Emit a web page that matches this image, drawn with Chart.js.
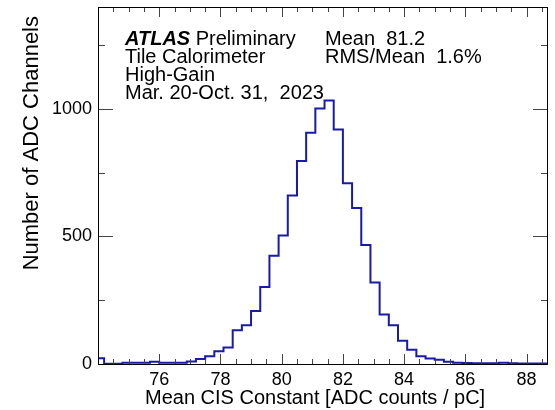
<!DOCTYPE html>
<html><head><meta charset="utf-8">
<script src="https://cdn.jsdelivr.net/npm/chart.js@4/dist/chart.umd.min.js"></script>
<style>html,body{margin:0;padding:0;background:#fff}#w{width:555px;height:410px;position:relative}</style>
</head><body><div id="w"><canvas id="c"></canvas></div>
<script>
// Histogram: bin low edge of first bin, bin width, and counts per bin
const binStart = 73.9;
const binWidth = 0.3;
const counts = [23, 1, 1, 5, 5, 5, 9, 5, 5, 5, 10, 20, 30, 50, 65, 132, 152, 208, 302, 425,
                504, 661, 796, 907, 1002, 1033, 920, 709, 612, 467, 320, 194, 152, 91, 56, 30,
                22, 17, 9, 5, 4, 3, 3, 3, 5, 3, 2, 2, 2, 2];
const xTicks = [76, 78, 80, 82, 84, 86, 88];
const yTicks = [0, 500, 1000];
const xRange = [74.0, 88.7];
const yRange = [0, 1400];
const xTitle = "Mean CIS Constant [ADC counts / pC]";
const yTitle = "Number of ADC Channels";
const textLeft = ["Tile Calorimeter", "High-Gain", "Mar. 20-Oct. 31,  2023"];
const textRight = ["Mean  81.2", "RMS/Mean  1.6%"];

const pts = counts.map((c, i) => ({x: +(binStart + i * binWidth).toFixed(2), y: c}));
pts.push({x: +(binStart + counts.length * binWidth).toFixed(2), y: counts[counts.length - 1]});

const FONT = "'Liberation Sans', Arial, Helvetica, sans-serif";

const decor = {
  id: 'decor',
  afterDatasetsDraw(chart) {
    const {ctx, chartArea: a, scales: {x, y}} = chart;
    ctx.save();
    // ticks
    ctx.strokeStyle = '#444';
    ctx.lineWidth = 1;
    ctx.beginPath();
    for (let v = 74.5; v <= 88.7 + 1e-9; v += 0.5) {
      const major = Math.abs(v / 2 - Math.round(v / 2)) < 1e-6;
      const len = major ? 10 : 5;
      const px = Math.round(x.getPixelForValue(v)) + 0.5;
      ctx.moveTo(px, a.bottom); ctx.lineTo(px, a.bottom - len);
      ctx.moveTo(px, a.top); ctx.lineTo(px, a.top + len);
    }
    for (let v = 250; v <= 1400; v += 250) {
      const major = v % 500 === 0;
      const len = major ? 15 : 7;
      const py = Math.round(y.getPixelForValue(v)) + 0.5;
      ctx.moveTo(a.left, py); ctx.lineTo(a.left + len, py);
      ctx.moveTo(a.right, py); ctx.lineTo(a.right - len, py);
    }
    ctx.stroke();
    // frame
    ctx.strokeStyle = '#000';
    ctx.strokeRect(a.left + 0.5, a.top + 0.5, a.right - a.left - 1, a.bottom - a.top);
    // texts
    ctx.fillStyle = '#000';
    ctx.textBaseline = 'alphabetic';
    ctx.textAlign = 'left';
    ctx.font = 'italic bold 20px ' + FONT;
    ctx.fillText('ATLAS', 125, 45);
    const w = ctx.measureText('ATLAS').width;
    ctx.font = '20px ' + FONT;
    ctx.fillText(' Preliminary', 125 + w, 45);
    textLeft.forEach((t, i) => ctx.fillText(t, 125, 63 + 18 * i));
    textRight.forEach((t, i) => ctx.fillText(t, 325, 45 + 18 * i));
    // axis titles
    ctx.textBaseline = 'middle';
    ctx.fillText(xTitle, 145, 398);
    ctx.translate(32, 16);
    ctx.rotate(-Math.PI / 2);
    ctx.textAlign = 'right';
    ctx.font = '22px ' + FONT;
    ctx.fillText(yTitle, 0, 0);
    ctx.restore();
  }
};

new Chart(document.getElementById('c'), {
  type: 'line',
  data: {
    datasets: [{
      data: pts,
      stepped: 'before',
      borderColor: '#1a1aa8',
      borderWidth: 2,
      pointRadius: 0,
      fill: false,
      tension: 0,
      clip: {left: 0, right: 0, top: 0, bottom: 2}
    }]
  },
  plugins: [decor],
  options: {
    responsive: true,
    maintainAspectRatio: false,
    animation: false,
    layout: {padding: {left: 0, right: 7, top: 7, bottom: 0}},
    plugins: {legend: {display: false}, tooltip: {enabled: false}},
    scales: {
      x: {
        type: 'linear', min: xRange[0], max: xRange[1],
        afterBuildTicks: s => { s.ticks = xTicks.map(v => ({value: v})); },
        afterFit: s => { s.height = 46; s.paddingLeft = 0; s.paddingRight = 0; },
        grid: {display: false, drawTicks: false, tickLength: 0},
        border: {display: false},
        ticks: {color: '#000', font: {family: FONT, size: 18}, padding: 5, maxRotation: 0, autoSkip: false,
                callback: v => String(v)}
      },
      y: {
        type: 'linear', min: yRange[0], max: yRange[1],
        afterBuildTicks: s => { s.ticks = yTicks.map(v => ({value: v})); },
        afterFit: s => { s.width = 98; s.paddingTop = 0; s.paddingBottom = 0; },
        grid: {display: false, drawTicks: false, tickLength: 0},
        border: {display: false},
        ticks: {color: '#000', font: {family: FONT, size: 18}, padding: 6, callback: v => String(v)}
      }
    }
  }
});
</script>
</body></html>
